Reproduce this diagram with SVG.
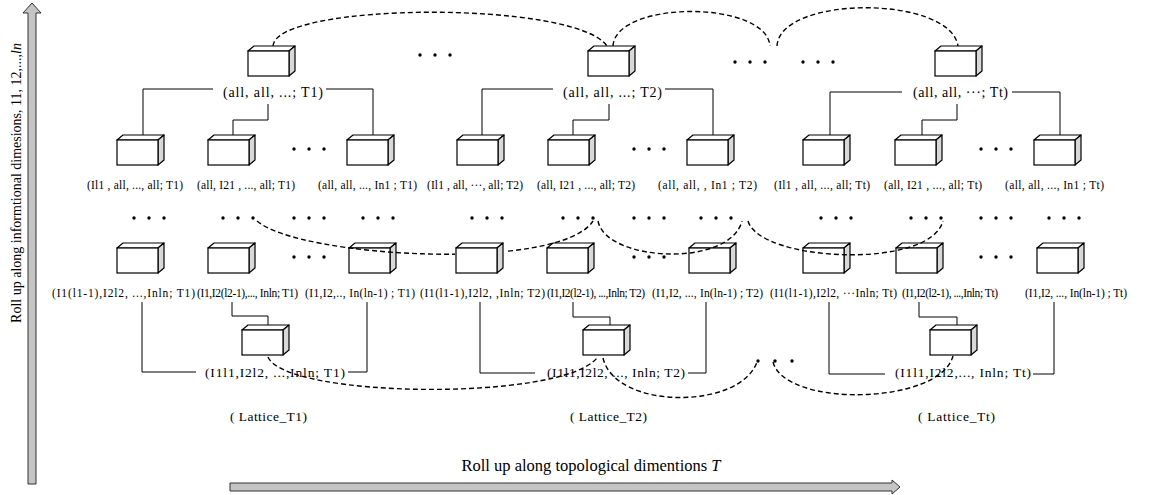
<svg xmlns="http://www.w3.org/2000/svg" width="1154" height="495" viewBox="0 0 1154 495" xml:space="preserve">
<style>
text { font-family: "Liberation Serif", "Times New Roman", serif; fill: #000; }
.top { font-size: 14px; }
.sm { font-size: 11.5px; }
.bot { font-size: 13.5px; }
.lat { font-size: 13.5px; }
.axis { font-size: 14px; }
.axisb { font-size: 16.5px; }
.ln { fill: none; stroke: #000; stroke-width: 1; }
.dash { fill: none; stroke: #000; stroke-width: 1.4; stroke-dasharray: 5 3; }
.arrow { fill: #c4c4c4; stroke: #333; stroke-width: 1; }
</style>
<defs>
<g id="cube">
<polygon points="0,0 6,-5 47,-5 41,0" fill="#fff" stroke="#000" stroke-width="1.2" stroke-linejoin="round"/>
<polygon points="41,0 47,-5 47,20 41,25" fill="#d8d8d8" stroke="#000" stroke-width="1.2" stroke-linejoin="round"/>
<rect x="0" y="0" width="41" height="25" fill="#fff" stroke="#000" stroke-width="1.2"/>
</g>
<g id="d3"><circle cx="0" cy="0" r="1.7"/><circle cx="15" cy="0" r="1.7"/><circle cx="30" cy="0" r="1.7"/></g>
<mask id="mA" maskUnits="userSpaceOnUse" x="0" y="0" width="1154" height="495"><rect x="0" y="0" width="1154" height="495" fill="#fff"/><rect x="455" y="240" width="50" height="36" fill="#000"/></mask>
</defs>

<g id="axes">
<polygon class="arrow" points="28,484 28,13 23,13 32,3 41,13 36,13 36,484"/>
<text class="axis" transform="translate(21,183) rotate(-90)" text-anchor="middle">Roll up along informtional dimesions, 11, 12,...,<tspan font-style="italic">ln</tspan></text>
<polygon class="arrow" points="230,483 892,483 892,480 900,487 892,494 892,491 230,491"/>
<text class="axisb" x="591" y="471" text-anchor="middle">Roll up along topological dimentions <tspan font-style="italic">T</tspan></text>
</g>

<g id="connectors">
<path class="ln" d="M213,89 H143 V135 M268,104 V120 H233 V135 M326,89 H373 V135"/>
<path class="ln" d="M142,302 V372 H196 M232,302 V316 H268 V325 M348,372 H367 V302"/>
<path class="ln" d="M553,89 H482 V135 M609,104 V120 H573 V135 M665,89 H713 V135"/>
<path class="ln" d="M480,302 V373 H535 M573,302 V317 H610 V325 M688,373 H706 V302"/>
<path class="ln" d="M902,92 H830 V135 M957,104 V120 H922 V135 M1012,92 H1060 V135"/>
<path class="ln" d="M829,302 V374 H885 M919,302 V317 H957 V325 M1033,374 H1054 V302"/>
</g>

<g id="top-T1"><use href="#cube" x="248" y="51"/><text class="top" x="223" y="97" textLength="100">(all, all, ...; T1)</text></g>
<g id="top-T2"><use href="#cube" x="588" y="51"/><text class="top" x="563" y="97" textLength="99">(all, all,  ...; T2)</text></g>
<g id="top-Tt"><use href="#cube" x="935" y="51"/><text class="top" x="913" y="97" textLength="95">(all, all, ···;  Tt)</text></g>

<g id="r2-T1-a"><use href="#cube" x="117" y="140"/><text class="sm" x="87" y="189" textLength="96">(Il1 , all,  ..., all; T1)</text></g>
<g id="r2-T1-b"><use href="#cube" x="208" y="140"/><text class="sm" x="197" y="189" textLength="98">(all, I21 , ...,  all; T1)</text></g>
<g id="r2-T1-c"><use href="#cube" x="347" y="140"/><text class="sm" x="318" y="189" textLength="99">(all, all, ..., In1 ; T1)</text></g>
<g id="r2-T2-a"><use href="#cube" x="457" y="140"/><text class="sm" x="427" y="189" textLength="96">(Il1 , all, ···, all; T2)</text></g>
<g id="r2-T2-b"><use href="#cube" x="548" y="140"/><text class="sm" x="537" y="189" textLength="98">(all, I21 , ...,  all; T2)</text></g>
<g id="r2-T2-c"><use href="#cube" x="687" y="140"/><text class="sm" x="658" y="189" textLength="99">(all, all,    , In1 ; T2)</text></g>
<g id="r2-Tt-a"><use href="#cube" x="803" y="140"/><text class="sm" x="774" y="189" textLength="96">(Il1 , all,  ..., all; Tt)</text></g>
<g id="r2-Tt-b"><use href="#cube" x="895" y="140"/><text class="sm" x="884" y="189" textLength="98">(all, I21 , ..., all; Tt)</text></g>
<g id="r2-Tt-c"><use href="#cube" x="1034" y="140"/><text class="sm" x="1005" y="189" textLength="99">(all, all, ..., In1 ; Tt)</text></g>

<g id="r3-T1-a"><use href="#cube" x="117" y="248"/><text class="sm" x="52" y="297" textLength="143">(I1(l1-1),I2l2,  ...,Inln; T1)</text></g>
<g id="r3-T1-b"><use href="#cube" x="208" y="248"/><text class="sm" x="197" y="297" textLength="101">(I1,I2(l2-1),...,  Inln; T1)</text></g>
<g id="r3-T1-c"><use href="#cube" x="349" y="248"/><text class="sm" x="305" y="297" textLength="110">(I1,I2,..,  In(ln-1) ; T1)</text></g>
<g id="r3-T2-a"><use href="#cube" x="456" y="248"/><text class="sm" x="420" y="297" textLength="125">(I1(l1-1),I2l2,    ,Inln; T2)</text></g>
<g id="r3-T2-b"><use href="#cube" x="547" y="248"/><text class="sm" x="547" y="297" textLength="98">(I1,I2(l2-1),  ...,Inln; T2)</text></g>
<g id="r3-T2-c"><use href="#cube" x="689" y="248"/><text class="sm" x="652" y="297" textLength="111">(I1,I2, ..., In(ln-1) ; T2)</text></g>
<g id="r3-Tt-a"><use href="#cube" x="803" y="248"/><text class="sm" x="770" y="297" textLength="127">(I1(l1-1),I2l2, ···Inln; Tt)</text></g>
<g id="r3-Tt-b"><use href="#cube" x="896" y="248"/><text class="sm" x="902" y="297" textLength="96">(I1,I2(l2-1),  ...,Inln; Tt)</text></g>
<g id="r3-Tt-c"><use href="#cube" x="1037" y="248"/><text class="sm" x="1025" y="297" textLength="102">(I1,I2, ..., In(ln-1) ; Tt)</text></g>

<g id="base-T1"><use href="#cube" x="242" y="330"/><text class="bot" x="205" y="377" textLength="140">(I1l1,I2l2,  ...,Inln; T1)</text></g>
<g id="base-T2"><use href="#cube" x="583" y="330"/><text class="bot" x="547" y="377" textLength="138">(I1l1,I2l2, ..., Inln; T2)</text></g>
<g id="base-Tt"><use href="#cube" x="930" y="330"/><text class="bot" x="895" y="377" textLength="136">(I1l1,I2l2,..., Inln; Tt)</text></g>

<g id="ellipses">
<use href="#d3" x="420" y="55"/>
<use href="#d3" x="735" y="62"/><use href="#d3" x="803" y="62"/>
<use href="#d3" x="294" y="149"/><use href="#d3" x="634" y="149"/><use href="#d3" x="981" y="149"/>
<use href="#d3" x="134" y="218"/><use href="#d3" x="223" y="218"/><use href="#d3" x="294" y="218"/><use href="#d3" x="363" y="218"/>
<use href="#d3" x="472" y="218"/><use href="#d3" x="563" y="218"/><use href="#d3" x="634" y="218"/><use href="#d3" x="701" y="218"/>
<use href="#d3" x="821" y="218"/><use href="#d3" x="911" y="218"/><use href="#d3" x="981" y="218"/><use href="#d3" x="1049" y="218"/>
<use href="#d3" x="294" y="257"/><use href="#d3" x="634" y="257"/><use href="#d3" x="981" y="257"/>
<circle cx="758" cy="361" r="1.7"/><circle cx="775" cy="361" r="1.7"/><circle cx="792" cy="361" r="1.7"/>
</g>

<g id="lattice-links">
<path class="dash" d="M273,46 C276,2 575,0 607,46"/>
<path class="dash" d="M613,46 C616,0 766,0 770,46"/>
<path class="dash" d="M777,46 C780,-5 950,-5 958,46"/>
<path class="dash" mask="url(#mA)" d="M257,221 C300,258 560,272 593,221"/>
<path class="dash" d="M598,221 C606,262 730,268 742,221"/>
<path class="dash" d="M748,221 C760,262 930,270 943,221"/>
<path class="dash" d="M268,357 C285,398 560,402 597,358"/>
<path class="dash" d="M603,358 C615,410 740,410 757,362"/>
<path class="dash" d="M773,362 C785,408 940,405 953,356"/>
</g>

<g id="captions">
<text class="lat" x="230" y="421" textLength="77">( Lattice_T1)</text>
<text class="lat" x="570" y="421" textLength="77">( Lattice_T2)</text>
<text class="lat" x="918" y="421" textLength="77">( Lattice_Tt)</text>
</g>
</svg>
